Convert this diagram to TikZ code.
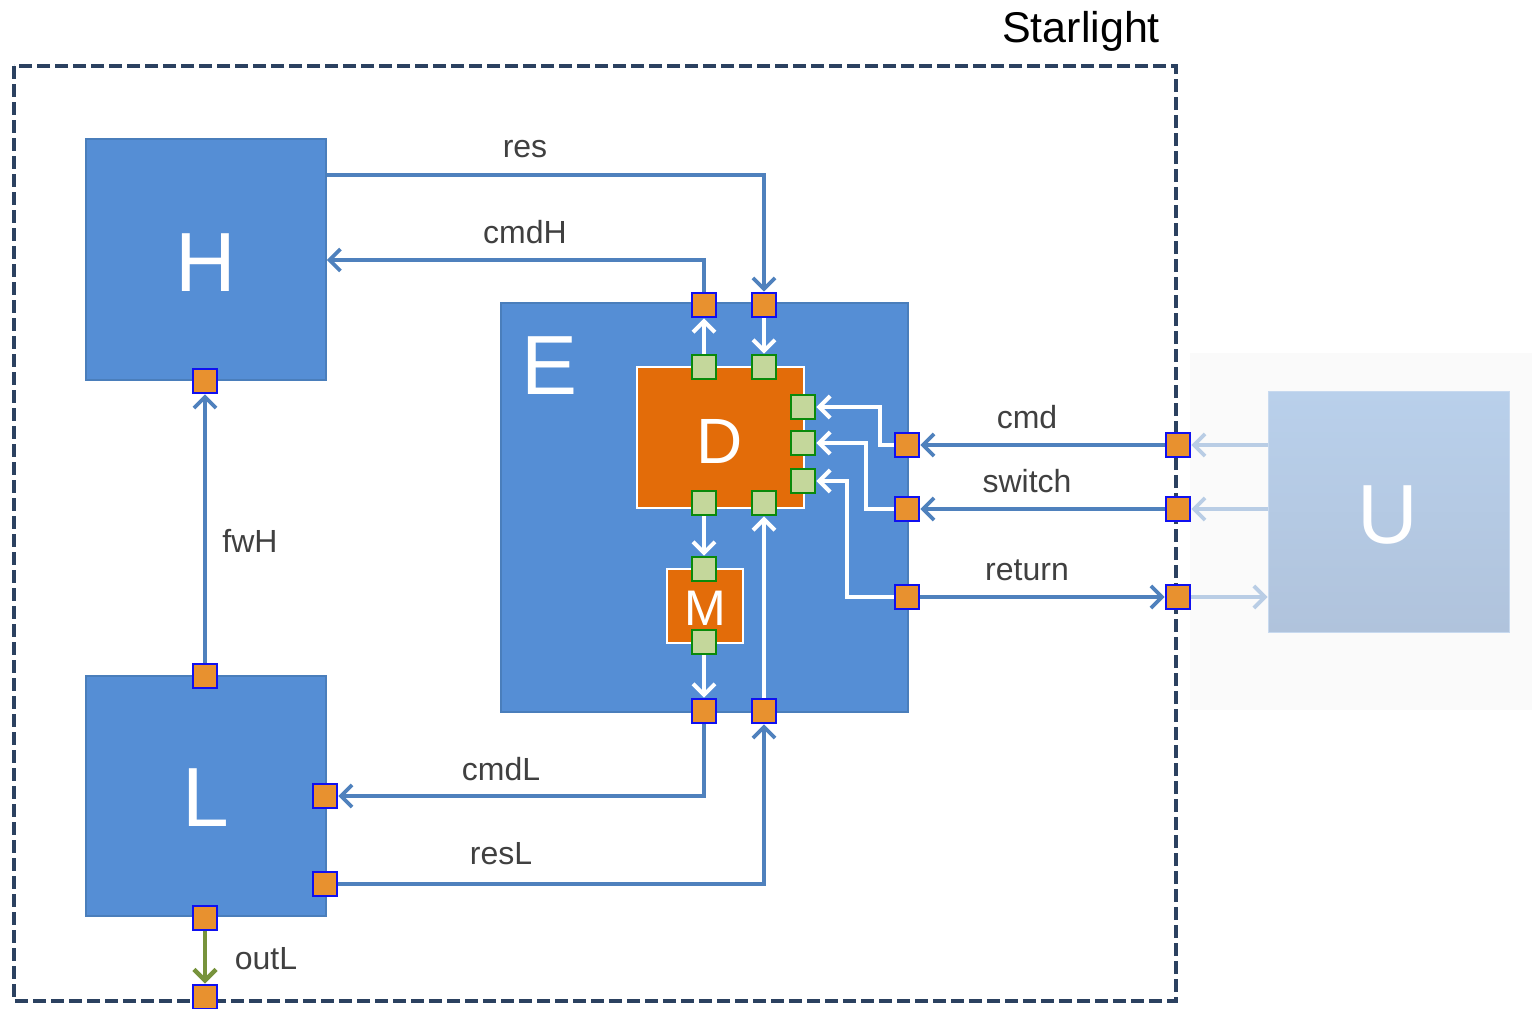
\documentclass[tikz,border=0pt]{standalone}
\usepackage{fontspec}
\setmainfont{Liberation Sans}
\usetikzlibrary{arrows.meta}
\definecolor{boxblue}{HTML}{558ED5}
\definecolor{boxedge}{HTML}{4A7EBB}
\definecolor{connblue}{HTML}{4F81BD}
\definecolor{lightconn}{HTML}{B9CDE5}
\definecolor{dorange}{HTML}{E36C09}
\definecolor{portorange}{HTML}{E8912F}
\definecolor{portblue}{HTML}{1010F0}
\definecolor{gfill}{HTML}{C4D79B}
\definecolor{gedge}{HTML}{0A8A0A}
\definecolor{outgreen}{HTML}{77933C}
\definecolor{navy}{HTML}{2B4160}
\definecolor{labelgrey}{HTML}{404040}
\definecolor{ubgcol}{HTML}{FAFAFA}
\definecolor{utop}{HTML}{B9D0EB}
\definecolor{ubot}{HTML}{B0C3DC}
\tikzset{
  blk/.style={draw=boxedge, fill=boxblue, line width=1.5pt, inner sep=0pt, rectangle},
  orblk/.style={draw=white, fill=dorange, line width=2pt, inner sep=0pt, rectangle},
  oport/.style={draw=portblue, fill=portorange, line width=2.2pt, minimum size=24.5pt, inner sep=0pt, rectangle},
  gport/.style={draw=gedge, fill=gfill, line width=2.2pt, minimum size=24.5pt, inner sep=0pt, rectangle},
  bigletter/.style={text=white, font=\fontsize{84}{84}\selectfont, inner sep=0pt, anchor=base},
  lbl/.style={text=labelgrey, font=\fontsize{32}{32}\selectfont, inner sep=0pt, anchor=base},
  conn/.style={draw=connblue, line width=3.8pt, -{Straight Barb[length=11pt,width=22pt,line width=3.8pt]}},
  lconn/.style={draw=lightconn, line width=3.8pt, -{Straight Barb[length=11pt,width=22pt,line width=3.8pt]}},
  wconn/.style={draw=white, line width=4pt, -{Straight Barb[length=11pt,width=22pt,line width=4pt]}},
  gconn/.style={draw=outgreen, line width=4.5pt, -{Straight Barb[length=11pt,width=22pt,line width=4.5pt]}},
  border/.style={draw=navy, line width=3.5pt, dash pattern=on 13pt off 5pt}
}
\begin{document}
\begin{tikzpicture}[x=1pt,y=-1pt]
\useasboundingbox (0,0) rectangle (1532,1009);
\fill[white] (0,0) rectangle (1532,1009);

% U region background
\fill[ubgcol] (1190,353) rectangle (1532,710);

% dashed border
\draw[border] (14,66) rectangle (1176,1001);
\node[font=\fontsize{43}{43}\selectfont, anchor=base, inner sep=0pt] (title) at (1081,42) {Starlight};

% main blocks
\node[blk, minimum width=240pt, minimum height=241pt] (H) at (206,259.5) {};
\node[blk, minimum width=240pt, minimum height=240pt] (L) at (206,796) {};
\node[blk, minimum width=407pt, minimum height=409pt] (E) at (704.5,507.5) {};
\node[orblk, minimum width=167pt, minimum height=141pt] (D) at (720.5,437.5) {};
\node[orblk, minimum width=76pt, minimum height=74pt] (M) at (705,606) {};
\node[rectangle, draw=utop!80!white, line width=1pt, top color=utop, bottom color=ubot, minimum width=241pt, minimum height=241pt, inner sep=0pt] (U) at (1388.5,511.5) {};

\node[bigletter] (tH) at (206,291) {H};
\node[bigletter] (tL) at (206,826) {L};
\node[bigletter, anchor=base west] (tE) at (521,394) {E};
\node[bigletter, font=\fontsize{64}{64}\selectfont] (tD) at (720,463) {D};
\node[bigletter, font=\fontsize{50}{50}\selectfont] (tM) at (705,625) {M};
\node[bigletter] (tU) at (1388,543) {U};

% orange ports
\node[oport] (pHb) at (205,381) {};
\node[oport] (pLt) at (205,676) {};
\node[oport] (pLr1) at (325,796) {};
\node[oport] (pLr2) at (325,884) {};
\node[oport] (pLb) at (205,918) {};
\node[oport] (pOut) at (205,997) {};
\node[oport] (pEt1) at (704,305) {};
\node[oport] (pEt2) at (764,305) {};
\node[oport] (pEb1) at (704,711) {};
\node[oport] (pEb2) at (764,711) {};
\node[oport] (pEr1) at (907,445) {};
\node[oport] (pEr2) at (907,509) {};
\node[oport] (pEr3) at (907,597) {};
\node[oport] (pB1) at (1178,445) {};
\node[oport] (pB2) at (1178,509) {};
\node[oport] (pB3) at (1178,597) {};

% green ports
\node[gport] (gDt1) at (704,367) {};
\node[gport] (gDt2) at (764,367) {};
\node[gport] (gDb1) at (704,503) {};
\node[gport] (gDb2) at (764,503) {};
\node[gport] (gDr1) at (803,407) {};
\node[gport] (gDr2) at (803,443) {};
\node[gport] (gDr3) at (803,481) {};
\node[gport] (gMt) at (704,569) {};
\node[gport] (gMb) at (704,642) {};

% blue connectors
\draw[conn] (H.east |- 0,175) -| (pEt2.north);
\draw[conn] (pEt1.north) |- (H.east |- 0,260);
\draw[conn] (pLt.north) -- (pHb.south);
\draw[conn] (pEb1.south) |- (pLr1.east);
\draw[conn] (pLr2.east) -| (pEb2.south);
\draw[gconn] (pLb.south) -- (pOut.north);
\draw[conn] (pB1.west) -- (pEr1.east);
\draw[conn] (pB2.west) -- (pEr2.east);
\draw[conn] (pEr3.east) -- (pB3.west);

% light connectors to U
\draw[lconn] (U.west |- pB1) -- (pB1.east);
\draw[lconn] (U.west |- pB2) -- (pB2.east);
\draw[lconn] (pB3.east) -- (U.west |- pB3);

% white internal connectors
\draw[wconn] (gDt1.north) -- (pEt1.south);
\draw[wconn] (pEt2.south) -- (gDt2.north);
\draw[wconn] (gDb1.south) -- (gMt.north);
\draw[wconn] (gMb.south) -- (pEb1.north);
\draw[wconn] (pEb2.north) -- (gDb2.south);
\draw[wconn] (pEr1.west) -- ++(-14,0) |- (gDr1.east);
\draw[wconn] (pEr2.west) -- ++(-28,0) |- (gDr2.east);
\draw[wconn] (pEr3.west) -- ++(-47,0) |- (gDr3.east);

% labels
\node[lbl] (lres) at (525,157) {res};
\node[lbl] (lcmdH) at (525,243) {cmdH};
\node[lbl] (lfwH) at (250,552) {fwH};
\node[lbl] (lcmdL) at (501,780) {cmdL};
\node[lbl] (lresL) at (501,864) {resL};
\node[lbl] (loutL) at (266,969) {outL};
\node[lbl] (lcmd) at (1027,428) {cmd};
\node[lbl] (lswitch) at (1027,492) {switch};
\node[lbl] (lreturn) at (1027,580) {return};
\end{tikzpicture}
\end{document}
